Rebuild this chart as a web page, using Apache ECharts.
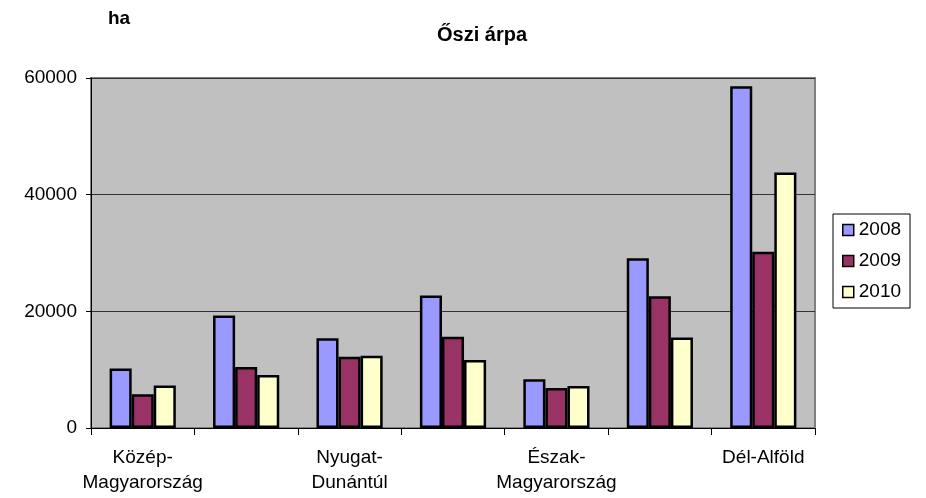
<!DOCTYPE html>
<html>
<head>
<meta charset="utf-8">
<script src="https://cdn.jsdelivr.net/npm/echarts@6/dist/echarts.min.js"></script>
<style>html,body{margin:0;padding:0;background:#fff;}#c{width:926px;height:498px;}</style>
</head>
<body>
<div id="c"></div>
<script>
const categories = ['Közép-\nMagyarország', 'Közép-\nDunántúl', 'Nyugat-\nDunántúl', 'Dél-\nDunántúl', 'Észak-\nMagyarország', 'Észak-\nAlföld', 'Dél-Alföld'];
const years = ['2008', '2009', '2010'];
const v2008 = [10200, 19300, 15400, 22700, 8350, 29100, 58600];
const v2009 = [5800, 10450, 12200, 15650, 6850, 22600, 30200];
const v2010 = [7300, 9100, 12400, 11650, 7200, 15500, 43800];
const colors = ['#9999FF', '#993366', '#FFFFCC'];
const values = [v2008, v2009, v2010];
const FONT = 'Liberation Sans, Arial, sans-serif';

const chart = echarts.init(document.getElementById('c'), null, {renderer: 'canvas'});
chart.setOption({
  animation: false,
  backgroundColor: '#ffffff',
  textStyle: {fontFamily: FONT},
  title: [
    {text: 'Őszi árpa', left: 477, top: 20, textAlign: 'center',
     textStyle: {fontFamily: FONT, fontSize: 20, fontWeight: 'bold', color: '#000'}},
    {text: 'ha', left: 103, top: 4,
     textStyle: {fontFamily: FONT, fontSize: 19, fontWeight: 'bold', color: '#000'}}
  ],
  legend: {
    orient: 'vertical', left: 833, top: 214,
    data: years,
    icon: 'rect', itemWidth: 11, itemHeight: 11, itemGap: 11,
    padding: [6, 9, 6, 9],
    borderColor: '#000', borderWidth: 1,
    itemStyle: {borderColor: '#000', borderWidth: 1.5},
    textStyle: {fontFamily: FONT, fontSize: 19, lineHeight: 20, color: '#000'}
  },
  grid: {
    left: 91, right: 111, top: 78, bottom: 70,
    show: true, backgroundColor: '#C0C0C0', borderColor: '#808080', borderWidth: 2
  },
  xAxis: {
    type: 'category', data: categories,
    axisLine: {lineStyle: {color: '#000', width: 1}},
    axisTick: {show: true, interval: 0, length: 7, lineStyle: {color: '#000'}},
    axisLabel: {interval: 1, fontFamily: FONT, fontSize: 19, color: '#000', margin: 17, lineHeight: 25}
  },
  yAxis: {
    type: 'value', min: 0, max: 60000, interval: 20000,
    axisLine: {show: true, lineStyle: {color: '#000', width: 1}},
    axisTick: {show: true, length: 5, lineStyle: {color: '#000'}},
    axisLabel: {fontFamily: FONT, fontSize: 19, color: '#000', margin: 14,
      formatter: v => String(v)},
    splitLine: {lineStyle: {color: '#333', width: 1}}
  },
  series: years.map((y, i) => ({
    name: y, type: 'bar', data: values[i],
    barGap: '0%', barCategoryGap: '36%',
    itemStyle: {color: colors[i], borderColor: '#000', borderWidth: 2.5}
  }))
});
</script>
</body>
</html>
